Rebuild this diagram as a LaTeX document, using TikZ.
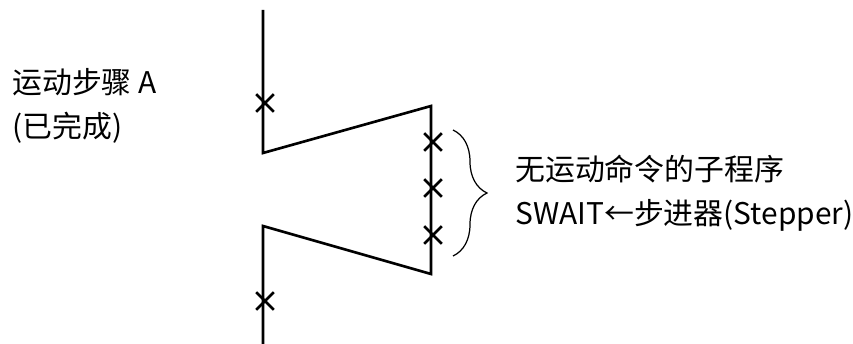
\documentclass[tikz,border=0pt]{standalone}
\usepackage{fontspec}
\newfontfamily\cjk{Noto Sans CJK SC}
\usetikzlibrary{positioning, shapes.misc, decorations.pathreplacing}

\begin{document}
\begin{tikzpicture}[
  x=0.02cm, y=-0.02cm,
  wire/.style={line width=1.5pt, line join=miter},
  xmark/.style={cross out, draw, line width=1.5pt, minimum size=0.3cm, inner sep=0pt},
  lbl/.style={font=\cjk\fontsize{17}{25}\selectfont, align=left, inner sep=0pt},
]
  \useasboundingbox (0,0) rectangle (853,344);

  \coordinate (top) at (263,10);
  \coordinate (a) at (263,153);
  \coordinate (b) at (431,106);
  \coordinate (c) at (431,274);
  \coordinate (d) at (263,226);
  \coordinate (bot) at (263,344);
  \draw[wire] (top) -- (a) -- (b) -- (c) -- (d) -- (bot);

  \node[xmark] (x1) at (265,103) {};
  \node[xmark] (x2) at (433,142) {};
  \node[xmark] (x3) at (433,188) {};
  \node[xmark] (x4) at (433,235) {};
  \node[xmark] (x5) at (265,301) {};

  \coordinate (btop) at (453,130);
  \coordinate (bbot) at (453,256);
  \coordinate (bmid) at (487,193);
  \draw[line width=0.7pt, decorate, decoration={brace, amplitude=0.68cm}] (btop) -- (bbot);

  \node[lbl, anchor=west] (stepA) at (12,106) {运动步骤 A\\(已完成)};
  \node[lbl, right=0.56cm of bmid] (sub) {无运动命令的子程序\\SWAIT←步进器(Stepper)};
\end{tikzpicture}
\end{document}
